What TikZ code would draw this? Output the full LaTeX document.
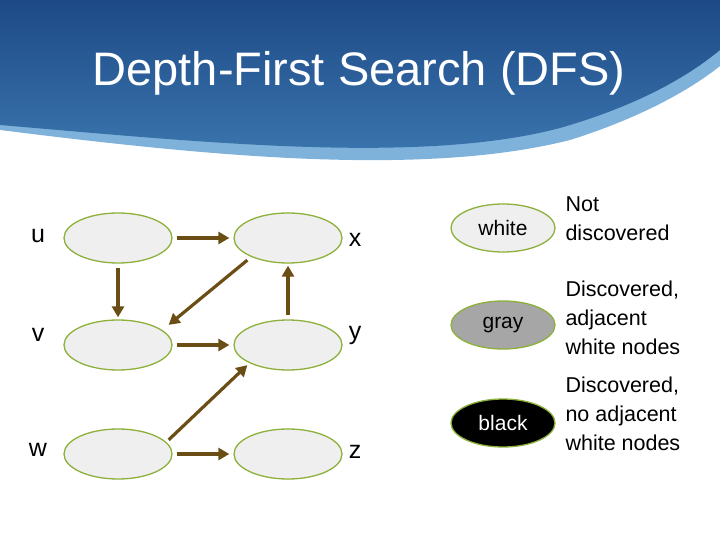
\documentclass[tikz,border=0pt]{standalone}
\usepackage{fontspec}
\setmainfont{Liberation Sans}
\usetikzlibrary{shapes.geometric,arrows.meta}
\definecolor{ringg}{HTML}{8DB03A}
\definecolor{nodefill}{HTML}{EFEFEF}
\definecolor{arr}{HTML}{6B4E16}
\definecolor{bluedark}{HTML}{1D4A86}
\definecolor{bluemid}{HTML}{3D78B0}
\definecolor{bluelight}{HTML}{7FB2DA}
\begin{document}
\begin{tikzpicture}[x=1pt,y=1pt,
  vert/.style={ellipse,draw=ringg,line width=1.3pt,fill=nodefill,minimum width=108pt,minimum height=50pt},
  leg/.style={ellipse,draw=ringg,line width=1.3pt,minimum width=104pt,minimum height=48pt,font=\fontsize{21}{24}\selectfont},
  lab/.style={font=\fontsize{25}{28}\selectfont},
  desc/.style={font=\fontsize{21.5}{29}\selectfont,align=left,anchor=west},
  edge/.style={draw=arr,line width=3.2pt,-{Triangle[length=11pt,width=12pt]}}]
\useasboundingbox (0,0) rectangle (720,-540);
\fill[white] (0,0) rectangle (720,-540);
% header band
\fill[bluelight] (0,0) -- (0,-130) .. controls (200,-155) and (420,-178) .. (570,-140) .. controls (640,-118) and (690,-90) .. (720,-66) -- (720,0) -- cycle;
\shade[top color=bluedark,bottom color=bluemid] (0,0) -- (0,-125) .. controls (200,-142) and (420,-165) .. (560,-128) .. controls (640,-105) and (690,-75) .. (720,-50) -- (720,0) -- cycle;
\node[text=white,font=\fontsize{47}{52}\selectfont] (title) at (359,-73) {Depth-First Search (DFS)};
% vertices
\node[vert] (u) at (118,-238) {};
\node[vert] (x) at (288,-238) {};
\node[vert] (v) at (118,-345) {};
\node[vert] (y) at (288,-345) {};
\node[vert] (w) at (118,-454) {};
\node[vert] (z) at (288,-454) {};
\node[lab] (lu) at (38,-236) {u};
\node[lab] (lx) at (355,-240) {x};
\node[lab] (lv) at (38,-335) {v};
\node[lab] (ly) at (355,-335) {y};
\node[lab] (lw) at (38,-450) {w};
\node[lab] (lz) at (355,-452) {z};
% edges
\draw[edge] ([xshift=4pt]u.east) -- ([xshift=-4pt]x.west);
\draw[edge] ([yshift=-4pt]u.south) -- ([yshift=2pt]v.north);
\draw[edge] ([xshift=-2pt,yshift=-4pt]x.south west) -- ([xshift=12pt,yshift=2pt]v.north east);
\draw[edge] ([yshift=4pt]y.north) -- ([yshift=-2pt]x.south);
\draw[edge] ([xshift=4pt]v.east) -- ([xshift=-4pt]y.west);
\draw[edge] ([xshift=12pt,yshift=-4pt]w.north east) -- ([xshift=-2pt,yshift=-2pt]y.south west);
\draw[edge] ([xshift=4pt]w.east) -- ([xshift=-4pt]z.west);
% legend
\node[leg,fill=nodefill] (lwhite) at (503,-228) {white};
\node[leg,fill=gray!70] (lgray) at (503,-325) {gray};
\node[leg,fill=black,text=white] (lblack) at (503,-423) {black};
\node[desc] (d1) at (562,-219) {Not\\discovered};
\node[desc] (d2) at (562,-318) {Discovered,\\adjacent\\white nodes};
\node[desc] (d3) at (562,-414) {Discovered,\\no adjacent\\white nodes};
\end{tikzpicture}
\end{document}
